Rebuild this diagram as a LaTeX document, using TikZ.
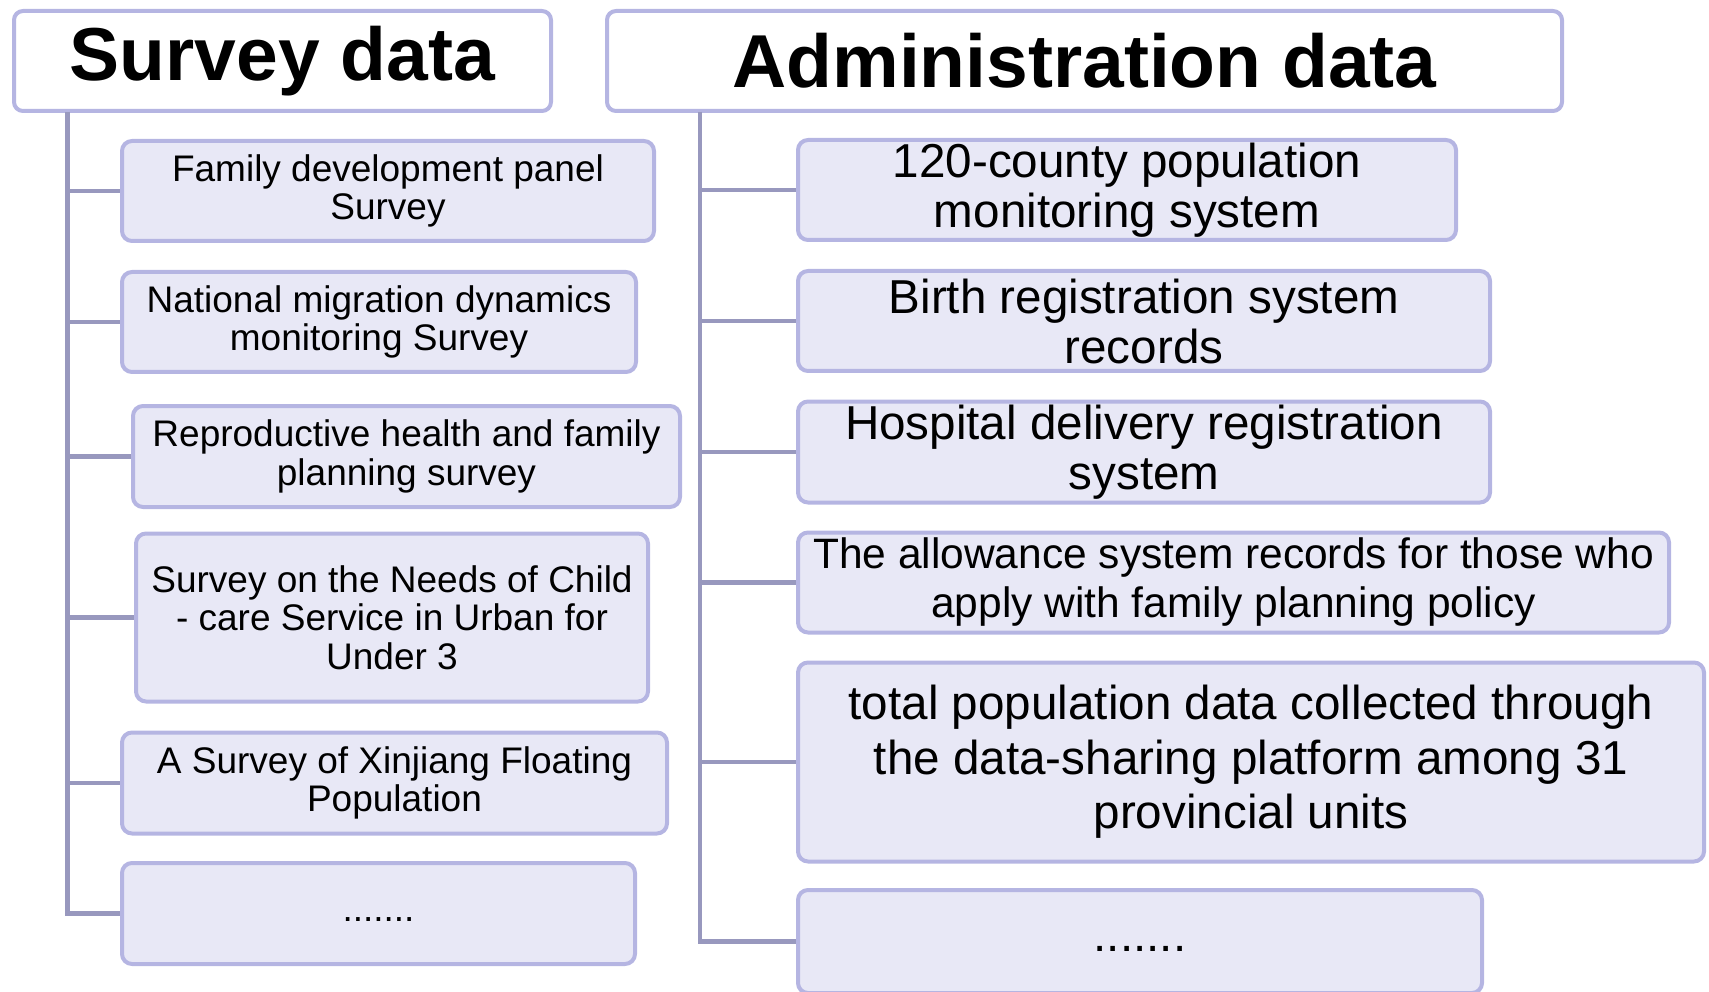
\documentclass[tikz,border=0pt]{standalone}
\usepackage{fontspec}
\setmainfont{Liberation Sans}

\definecolor{boxline}{RGB}{181,181,226}
\definecolor{boxfill}{RGB}{232,232,246}
\definecolor{stemline}{RGB}{152,152,190}

\tikzset{
	head/.style={draw=boxline, fill=white, line width=4pt, rounded corners=9pt, inner sep=0pt,
		font=\fontsize{75}{80}\selectfont\bfseries},
	item/.style={draw=boxline, fill=boxfill, line width=4pt, rounded corners=10pt, inner sep=0pt, align=center},
	small/.style={font=\fontsize{37}{38.6}\selectfont},
	big/.style={font=\fontsize{47.6}{50}\selectfont},
	stem/.style={draw=stemline, line width=4.5pt},
}

\begin{document}
\begin{tikzpicture}[x=1pt,y=1pt,yscale=-1,xscale=1]
		\useasboundingbox (0,0) rectangle (1709,992);

		% Headers
		\node [head, minimum width=537, minimum height=100] (survey) at (282.5,61) {Survey data};
		\node [head, minimum width=955, minimum height=100] (admin) at (1084.5,61) {Administration data};

		% Survey data items
		\node [item, small, minimum width=532, minimum height=100] (s1) at (388,191) {Family development panel\\Survey};
		\node [item, small, minimum width=514, minimum height=100] (s2) at (379,322) {National migration dynamics\\monitoring Survey};
		\node [item, small, minimum width=547, minimum height=101] (s3) at (406.5,456.5) {Reproductive health and family\\planning survey};
		\node [item, small, minimum width=512, minimum height=168] (s4) at (392,617.5) {Survey on the Needs of Child\\- care Service in Urban for\\Under 3};
		\node [item, small, minimum width=545, minimum height=101] (s5) at (394.5,783) {A Survey of Xinjiang Floating\\Population};
		\node [item, small, minimum width=513, minimum height=101] (s6) at (378.5,913.5) {\strut.......};

		% Administration data items
		\node [item, big, minimum width=658, minimum height=100] (a1) at (1127,190) {120-county population\\monitoring system};
		\node [item, big, minimum width=692, minimum height=100] (a2) at (1144,321) {Birth registration system\\records};
		\node [item, big, minimum width=692, minimum height=101] (a3) at (1144,452) {Hospital delivery registration\\system};
		\node [item, font=\fontsize{42.5}{49}\selectfont, minimum width=871, minimum height=100] (a4) at (1233.5,582.5) {The allowance system records for those who\\apply with family planning policy};
		\node [item, font=\fontsize{47.6}{54.5}\selectfont, minimum width=906, minimum height=199] (a5) at (1251,762) {total population data collected through\\the data-sharing platform among 31\\provincial units};
		\node [item, big, minimum width=684, minimum height=103] (a6) at (1140,941.5) {\strut.......};

		% Trunks and branches
		\coordinate (sroot) at (67.5,112);
		\coordinate (aroot) at (700,112);
		\draw [stem] (sroot) |- (s6.west);
		\foreach \n in {s1,s2,s3,s4,s5}
			\draw [stem] (sroot |- \n.west) -- (\n.west);
		\draw [stem] (aroot) |- (a6.west);
		\foreach \n in {a1,a2,a3,a4,a5}
			\draw [stem] (aroot |- \n.west) -- (\n.west);

\end{tikzpicture}
\end{document}
